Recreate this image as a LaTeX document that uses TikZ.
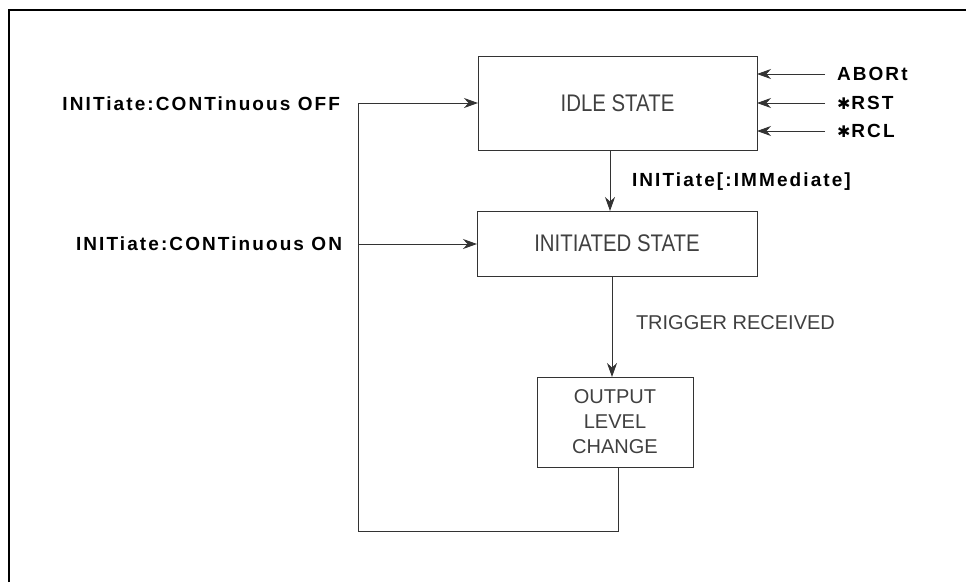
\documentclass[tikz,border=0pt]{standalone}
\usepackage{fontspec}
\setmainfont{Liberation Sans}
\newfontfamily\lblfont[LetterSpace=11]{Liberation Sans}
\newfontfamily\boxfont{Liberation Sans}
\newfontfamily\narrowfont[FakeStretch=0.85]{Liberation Sans}
\newfontfamily\symfont{DejaVu Sans}
\usetikzlibrary{arrows.meta}
\newcommand{\myast}{{\symfont\fontsize{16}{16}\selectfont\bfseries ✱}\kern1pt}
\tikzset{
  statebox/.style={draw=black!80, line width=0.9pt, inner sep=0pt, outer sep=0pt,
    font=\narrowfont\fontsize{24}{26}\selectfont, text=black!75, align=center},
  cmd/.style={inner sep=0pt, outer sep=0pt, font=\lblfont\bfseries\fontsize{19}{21}\selectfont},
  note/.style={inner sep=0pt, outer sep=0pt, font=\boxfont\fontsize{20}{22}\selectfont, text=black!75},
  conn/.style={draw=black!80, line width=0.9pt},
  arr/.style={conn, -{Stealth[length=14pt,width=10pt,inset=4.5pt]}}
}
\begin{document}
\begin{tikzpicture}[x=1pt,y=-1pt]
\useasboundingbox (0,0) rectangle (966,582);
% frame
\draw[line width=2pt] (9,582) -- (9,10) -- (966,10);

% state boxes
\node[statebox, minimum width=279pt, minimum height=94pt] (idle) at (617.5,103) {IDLE STATE};
\node[statebox, minimum width=280pt, minimum height=65pt] (init) at (617,243.5) {INITIATED STATE};
\node[statebox, minimum width=156pt, minimum height=90pt, font=\boxfont\fontsize{20}{25}\selectfont] (out) at (615,422) {OUTPUT\\LEVEL\\CHANGE};

% left labels
\node[cmd, anchor=east] (offl) at (340,104) {INITiate:CONTinuous OFF};
\node[cmd, anchor=east] (onl) at (342,244) {INITiate:CONTinuous ON};
\coordinate (fb) at (358,103);
\coordinate (fbon) at (358,244);
\coordinate (fbbot) at (358,531);

% right labels
\node[cmd, anchor=west] (abort) at (837,74) {ABORt};
\node[cmd, anchor=west] (rst) at (837,103) {\myast RST};
\node[cmd, anchor=west] (rcl) at (837,131) {\myast RCL};

% middle labels
\node[cmd, anchor=west] (imm) at (632,182) {INITiate[:IMMediate]};
\node[note, anchor=west] (trig) at (636,323) {TRIGGER RECEIVED};

\coordinate (ax1) at (610,0);
\coordinate (ax2) at (612,0);
\coordinate (ax3) at (618,0);

% connectors
\draw[arr] (fb) -- (idle.west |- fb);
\draw[arr] (fbon) -- (init.west |- fbon);
\draw[arr] ([xshift=-12pt]abort.west) -- (idle.east |- abort.west);
\draw[arr] ([xshift=-12pt]rst.west) -- (idle.east |- rst.west);
\draw[arr] ([xshift=-12pt]rcl.west) -- (idle.east |- rcl.west);
\draw[arr] (idle.south -| ax1) -- (init.north -| ax1);
\draw[arr] (init.south -| ax2) -- (out.north -| ax2);
\draw[conn] (out.south -| ax3) -- (fbbot -| ax3) -- (fbbot) -- (fb);
\end{tikzpicture}
\end{document}
